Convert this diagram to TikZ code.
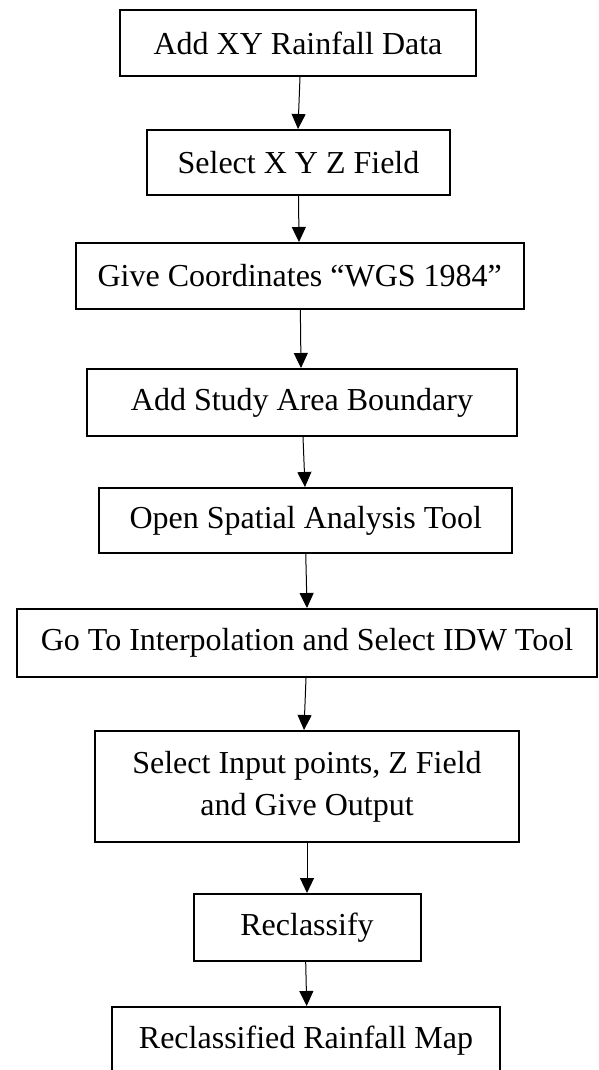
\documentclass[tikz,border=0pt]{standalone}
\usepackage{fontspec}
\setmainfont{Liberation Serif}
\usetikzlibrary{arrows.meta}
\tikzset{
  box/.style={draw=black, line width=2bp, inner sep=0pt, fill=white,
    font=\fontsize{32bp}{42bp}\selectfont, align=center},
  arr/.style={line width=1bp, -{Triangle[width=14bp,length=15bp]}}
}
\begin{document}
\begin{tikzpicture}[x=1bp,y=-1bp]
\useasboundingbox (0,0) rectangle (599,1070);
\node[box, minimum width=356bp, minimum height=66bp] (b1) at (298,43) {Add XY Rainfall Data};
\node[box, minimum width=303bp, minimum height=65bp] (b2) at (298.5,162.5) {Select X Y Z Field};
\node[box, minimum width=447.5bp, minimum height=66bp] (b3) at (299.75,276) {Give Coordinates “WGS 1984”};
\node[box, minimum width=430bp, minimum height=67bp] (b4) at (302,402.5) {Add Study Area Boundary};
\node[box, minimum width=412.5bp, minimum height=65bp] (b5) at (305.75,520.5) {Open Spatial Analysis Tool};
\node[box, minimum width=580bp, minimum height=68bp] (b6) at (307,643) {Go To Interpolation and Select IDW Tool};
\node[box, minimum width=424bp, minimum height=111bp] (b7) at (307,786.5) {Select Input points, Z Field\\and Give Output};
\node[box, minimum width=227bp, minimum height=67bp] (b8) at (307,927.5) {Reclassify};
\node[box, minimum width=388bp, minimum height=68bp] (b9) at (306,1041) {Reclassified Rainfall Map};
\draw[arr] ([xshift=2bp]b1.south) -- ([xshift=-0.5bp]b2.north);
\draw[arr] (b2.south) -- ([xshift=-0.75bp]b3.north);
\draw[arr] ([xshift=0.6bp]b3.south) -- ([xshift=-1bp]b4.north);
\draw[arr] ([xshift=1bp]b4.south) -- ([xshift=-0.75bp]b5.north);
\draw[arr] (b5.south) -- (b6.north);
\draw[arr] ([xshift=-1bp]b6.south) -- ([xshift=-3bp]b7.north);
\draw[arr] (b7.south) -- (b8.north);
\draw[arr] ([xshift=-1.3bp]b8.south) -- ([xshift=0.7bp]b9.north);
\end{tikzpicture}
\end{document}
